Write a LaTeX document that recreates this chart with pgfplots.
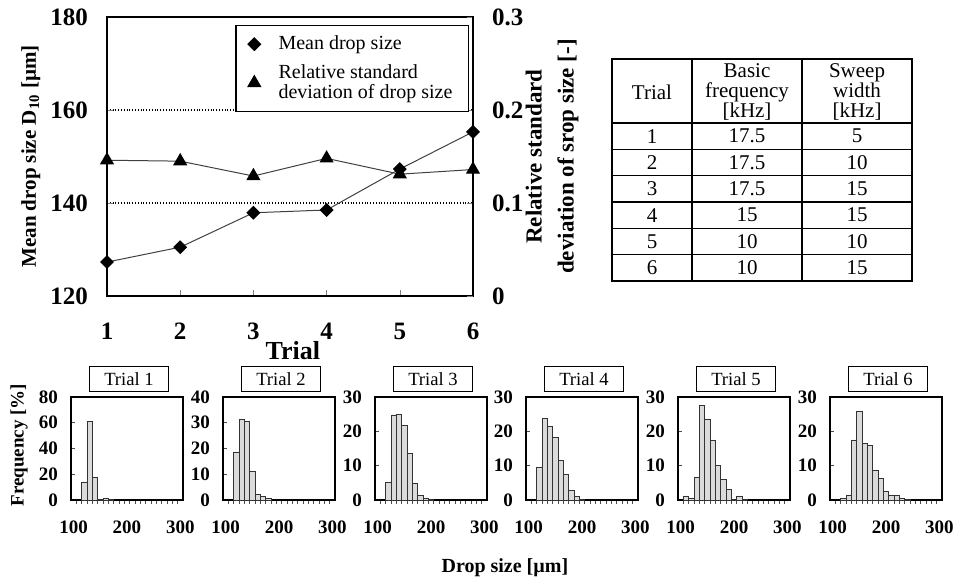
\documentclass[border=0pt]{standalone}
\usepackage{fontspec}
\setmainfont{Liberation Serif}
\usepackage{pgfplots}
\pgfplotsset{compat=1.18}

\pgfplotsset{
  /pgf/number format/assume math mode=true,
  hist/.style={
    scale only axis, width=56pt, height=51.5pt,
    xmin=95, xmax=305, ymin=0,
    xtick={100,200,300},
    minor xtick={105,115,...,295},
    major tick length=0pt, minor tick length=1.8pt,
    tick align=inside,
    xtick pos=bottom, ytick pos=left,
    axis line style={line width=0.75pt},
    minor tick style={black!70, line width=0.35pt},
    ticklabel style={font=\fontsize{9.5}{11}\selectfont\bfseries},
    xticklabel style={yshift=-7pt},
    yticklabel style={xshift=-3pt},
    title style={draw, line width=0.75pt, minimum width=39.5pt,
      minimum height=12.5pt, inner sep=0pt, yshift=-3.5pt, xshift=1pt,
      font=\fontsize{9.3}{10}\selectfont},
    ybar, bar width=10, bar shift=0pt,
  },
  histbar/.style={fill=gray!28, draw=gray!40!black, line width=0.35pt},
}

\begin{document}
\begin{tikzpicture}
\useasboundingbox (0,0) rectangle (482pt,-290pt);

% ---- main chart: mean drop size (left) ----
\begin{axis}[
  at={(53.5pt,-148pt)}, anchor=south west,
  scale only axis, width=183pt, height=139.5pt,
  xmin=1, xmax=6, ymin=120, ymax=180,
  xtick={1,...,6}, ytick={120,140,160,180},
  xtick pos=bottom, ytick pos=left, tick align=inside,
  major tick length=3pt,
  axis line style={line width=0.9pt},
  ymajorgrids, grid style={densely dotted, line width=0.6pt, black},
  ticklabel style={font=\fontsize{12.5}{15}\selectfont\bfseries},
  xticklabel style={yshift=-10pt},
  yticklabel style={xshift=-6pt},
  xlabel={Trial},
  xlabel style={at={(axis description cs:0.508,-0.194)}, anchor=center,
    font=\fontsize{13}{15}\selectfont\bfseries},
  ylabel={Mean drop size D\textsubscript{10} [µm]},
  ylabel style={at={(axis description cs:-0.208,0.5)}, anchor=center,
    font=\fontsize{10.5}{12}\selectfont\bfseries},
]
\addplot[line width=0.5pt, black!75, mark=square*,
  mark options={black, solid, rotate=45, mark size=2.2pt}]
  coordinates {(1,127.3) (2,130.5) (3,137.9) (4,138.5) (5,147.3) (6,155.3)};
\end{axis}

% ---- main chart: relative standard deviation (right) ----
\begin{axis}[
  at={(53.5pt,-148pt)}, anchor=south west,
  scale only axis, width=183pt, height=139.5pt,
  xmin=1, xmax=6, ymin=0, ymax=0.3,
  axis x line=none, axis y line*=right,
  ytick={0,0.1,0.2,0.3}, tick align=inside, major tick length=3pt,
  axis line style={line width=0.9pt},
  ticklabel style={font=\fontsize{12.5}{15}\selectfont\bfseries},
  yticklabel style={xshift=6pt},
  ylabel={Relative standard\\deviation of srop size [-]},
  ylabel style={at={(axis description cs:1.216,0.5)}, anchor=center,
    align=center, font=\fontsize{11.5}{16}\selectfont\bfseries},
  legend cell align=left,
  legend style={at={(axis description cs:0.989,0.971)}, anchor=north east,
    draw=black, line width=0.6pt, fill=white,
    font=\fontsize{10}{10}\selectfont, cells={align=left},
    inner xsep=6pt, inner ysep=3pt, row sep=2pt,
    /tikz/every odd column/.append style={column sep=7pt}},
]
\addlegendimage{only marks, mark=square*, black,
  mark options={rotate=45, mark size=2.2pt}}
\addlegendentry{Mean drop size}
\addlegendimage{only marks, mark=triangle*, black, mark options={mark size=3.6pt}}
\addlegendentry{Relative standard\\deviation of drop size}
\addplot[forget plot, line width=0.5pt, black!75, mark=triangle*,
  mark options={black, solid, mark size=3.6pt}]
  coordinates {(1,0.146) (2,0.145) (3,0.129) (4,0.148) (5,0.131) (6,0.136)};
\end{axis}

% ---- table ----
\begin{scope}[x=0.5pt, y=-0.5pt, line width=0.6pt,
  every node/.style={font=\fontsize{10.5}{10.2}\selectfont, inner sep=0pt}]
\draw (612,59) rectangle (912,281);
\draw (692,59) -- (692,281) (802,59) -- (802,281);
\foreach \y in {123,149.3,175.6,201.9,228.2,254.5}
  \draw (612,\y) -- (912,\y);
\node at (652,92) {Trial};
\node[align=center] at (747,92) {Basic\\frequency\\{[kHz]}};
\node[align=center] at (857,92) {Sweep\\width\\{[kHz]}};
\foreach \t/\f/\s [count=\i from 0] in {1/17.5/5, 2/17.5/10, 3/17.5/15,
    4/15/15, 5/10/10, 6/10/15} {
  \node at (652,136.2+26.3*\i) {\t};
  \node at (747,136.2+26.3*\i) {\f};
  \node at (857,136.2+26.3*\i) {\s};
}
\end{scope}

% ---- histograms ----
\begin{axis}[hist, at={(35.5pt,-250pt)}, anchor=south west,
  ymax=80, ytick={0,20,...,80}, minor ytick={20,40,60}, title={Trial 1},
  ylabel={Frequency [\%]},
  ylabel style={at={(axis description cs:-0.464,0.534)}, anchor=center,
    font=\fontsize{9.5}{11}\selectfont\bfseries}]
\addplot[histbar] coordinates {(120,14) (130,61) (140,17.5) (150,0.3)
  (160,1.5) (170,0.4)};
\end{axis}

\begin{axis}[hist, at={(111.5pt,-250pt)}, anchor=south west,
  ymax=40, ytick={0,10,...,40}, minor ytick={10,20,30}, title={Trial 2}]
\addplot[histbar] coordinates {(120,18.7) (130,31.5) (140,30.5) (150,11.3)
  (160,2.2) (170,1.3) (180,0.5)};
\end{axis}

\begin{axis}[hist, at={(187.5pt,-250pt)}, anchor=south west,
  ymax=30, ytick={0,10,...,30}, minor ytick={10,20}, title={Trial 3},
  xlabel={Drop size [µm]},
  xlabel style={at={(axis description cs:1.16,-0.66)}, anchor=center,
    font=\fontsize{10}{11}\selectfont\bfseries}]
\addplot[histbar] coordinates {(120,5.1) (130,24.8) (140,25) (150,21.8)
  (160,13.5) (170,4.8) (180,1.3) (190,0.5) (200,0.3)};
\end{axis}

\begin{axis}[hist, at={(263pt,-250pt)}, anchor=south west,
  ymax=30, ytick={0,10,...,30}, minor ytick={10,20}, title={Trial 4}]
\addplot[histbar] coordinates {(120,9.5) (130,23.8) (140,21.5) (150,18.3)
  (160,11.5) (170,7.5) (180,2.8) (190,1) (200,0.3)};
\end{axis}

\begin{axis}[hist, at={(339pt,-250pt)}, anchor=south west,
  ymax=30, ytick={0,10,...,30}, minor ytick={10,20}, title={Trial 5}]
\addplot[histbar] coordinates {(110,1.2) (120,0.6) (130,6.5) (140,27.5)
  (150,23.6) (160,17.5) (170,10) (180,6) (190,3) (200,0.3) (210,1.2) (220,0.2)};
\end{axis}

\begin{axis}[hist, at={(415pt,-250pt)}, anchor=south west,
  ymax=30, ytick={0,10,...,30}, minor ytick={10,20}, title={Trial 6}]
\addplot[histbar] coordinates {(120,0.5) (130,1.5) (140,17.5) (150,25.8)
  (160,16.5) (170,16) (180,8.5) (190,6.3) (200,2.5) (210,1.4) (220,1.4)
  (230,0.5) (240,0.2)};
\end{axis}
\end{tikzpicture}
\end{document}
